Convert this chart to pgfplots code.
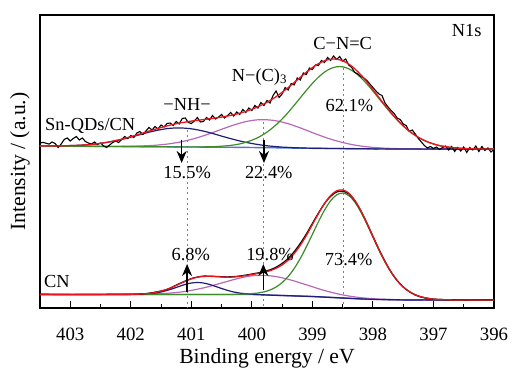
\documentclass[border=0pt]{standalone}
\usepackage{fontspec}
\setmainfont{Liberation Serif}
\usepackage{pgfplots}
\usepackage{pgfplotstable}
\pgfplotsset{compat=1.18}
\usetikzlibrary{arrows.meta}
\definecolor{cnavy}{HTML}{1E1E78}
\definecolor{cpink}{HTML}{B868B8}
\definecolor{cgreen}{HTML}{3C8C28}
\definecolor{cred}{HTML}{E8141E}
\definecolor{cbase}{HTML}{5078C8}
\definecolor{cbaseL}{HTML}{5A52B0}
\newcommand{\af}{\fontsize{9.2}{11}\selectfont}
\newcommand{\lf}{\fontsize{10.8}{12}\selectfont}

% upper spectrum (Sn-QDs/CN): x, background, -NH-, N-(C)3, C-N=C, envelope
\pgfplotstableread{
x B blue pink green red
403.5 162.0 162.1 162.0 162.0 162.1
403.4 162.0 162.1 162.0 162.0 162.1
403.3 161.9 162.1 161.9 161.9 162.1
403.2 161.9 162.1 161.9 161.9 162.1
403.1 161.8 162.2 161.8 161.8 162.2
403.0 161.8 162.4 161.8 161.8 162.4
402.9 161.8 162.6 161.8 161.8 162.6
402.8 161.7 162.9 161.7 161.7 162.9
402.7 161.7 163.3 161.7 161.7 163.4
402.6 161.6 163.9 161.7 161.6 163.9
402.5 161.6 164.6 161.6 161.6 164.7
402.4 161.6 165.6 161.6 161.6 165.6
402.3 161.5 166.7 161.6 161.5 166.8
402.2 161.5 167.9 161.6 161.5 168.1
402.1 161.4 169.3 161.7 161.4 169.6
402.0 161.4 170.9 161.8 161.4 171.3
401.9 161.4 172.5 161.9 161.4 173.1
401.8 161.3 174.2 162.1 161.3 174.9
401.7 161.3 175.8 162.4 161.3 176.9
401.6 161.2 177.2 162.7 161.2 178.7
401.5 161.2 178.4 163.3 161.2 180.5
401.4 161.2 179.4 163.9 161.2 182.1
401.3 161.1 179.9 164.8 161.1 183.6
401.2 161.1 180.1 165.8 161.1 184.9
401.1 161.0 179.8 167.1 161.1 185.9
401.0 161.0 179.2 168.6 161.1 186.9
400.9 161.0 178.2 170.3 161.1 187.7
400.8 160.9 176.9 172.2 161.1 188.4
400.7 160.9 175.4 174.3 161.3 189.2
400.6 160.8 173.7 176.5 161.4 190.0
400.5 160.8 171.9 178.7 161.8 190.9
400.4 160.7 170.2 180.9 162.3 192.0
400.3 160.7 168.6 183.0 163.0 193.3
400.2 160.6 167.0 184.8 164.1 194.8
400.1 160.6 165.7 186.4 165.7 196.6
400.0 160.5 164.5 187.5 167.8 198.7
399.9 160.4 163.5 188.2 170.4 201.2
399.8 160.3 162.6 188.3 173.9 204.1
399.7 160.3 161.9 188.0 178.1 207.5
399.6 160.2 161.4 187.2 183.2 211.3
399.5 160.1 160.9 185.9 189.0 215.7
399.4 160.0 160.6 184.3 195.6 220.4
399.3 159.9 160.3 182.3 202.8 225.5
399.2 159.9 160.1 180.1 210.2 230.7
399.1 159.8 159.9 177.8 217.6 235.8
399.0 159.7 159.8 175.4 224.6 240.4
398.9 159.6 159.7 173.1 230.8 244.3
398.8 159.6 159.6 170.9 235.9 247.2
398.7 159.5 159.5 168.9 239.4 248.8
398.6 159.5 159.5 167.1 241.2 248.8
398.5 159.4 159.4 165.5 241.2 247.2
398.4 159.3 159.3 164.1 239.2 244.0
398.3 159.3 159.3 162.9 235.6 239.2
398.2 159.2 159.2 162.0 230.4 233.2
398.1 159.2 159.2 161.2 224.1 226.1
398.0 159.1 159.1 160.6 216.9 218.4
397.9 159.1 159.1 160.2 209.4 210.5
397.8 159.1 159.1 159.8 201.9 202.7
397.7 159.0 159.0 159.6 194.7 195.2
397.6 159.0 159.0 159.4 188.0 188.3
397.5 159.0 159.0 159.2 182.0 182.2
397.4 159.0 159.0 159.1 176.8 177.0
397.3 159.0 159.0 159.1 172.5 172.6
397.2 158.9 158.9 159.0 169.0 169.0
397.1 158.9 158.9 159.0 166.2 166.2
397.0 158.9 158.9 158.9 164.0 164.1
396.9 158.9 158.9 158.9 162.4 162.4
396.8 158.9 158.9 158.9 161.3 161.3
396.7 158.9 158.9 158.9 160.5 160.5
396.6 158.9 158.9 158.9 159.9 159.9
396.5 158.9 158.9 158.9 159.5 159.5
396.4 158.8 158.8 158.8 159.2 159.2
396.3 158.8 158.8 158.8 159.1 159.1
396.2 158.8 158.8 158.8 159.0 159.0
396.1 158.8 158.8 158.8 158.9 158.9
396.0 158.8 158.8 158.8 158.9 158.9
}\tabUfit

\pgfplotstableread{
x y
403.50 165.0
403.45 165.6
403.40 164.8
403.35 163.9
403.30 166.0
403.25 164.5
403.20 160.5
403.15 164.0
403.10 168.5
403.05 170.0
403.00 167.0
402.95 169.5
402.90 171.5
402.85 168.0
402.80 170.0
402.75 166.5
402.70 165.0
402.65 164.0
402.60 166.0
402.55 163.5
402.50 165.0
402.45 162.0
402.40 160.5
402.35 163.0
402.30 165.5
402.25 167.0
402.20 165.5
402.15 168.5
402.10 171.5
402.05 169.5
402.00 172.5
401.95 170.5
401.90 175.0
401.85 176.5
401.80 173.5
401.75 177.0
401.70 180.5
401.65 178.0
401.60 181.5
401.55 179.0
401.50 183.0
401.45 181.0
401.40 184.5
401.35 185.0
401.30 182.5
401.25 186.5
401.20 184.0
401.15 189.5
401.10 190.0
401.05 185.5
401.00 184.5
400.95 187.0
400.90 190.5
400.85 186.0
400.80 186.5
400.75 190.5
400.70 188.0
400.65 192.5
400.60 189.0
400.55 191.0
400.50 193.5
400.45 190.0
400.40 192.5
400.35 195.5
400.30 192.0
400.25 196.0
400.20 193.5
400.15 198.5
400.10 195.5
400.05 200.0
400.00 197.5
399.95 202.5
399.90 200.0
399.85 205.5
399.80 202.5
399.75 207.5
399.70 205.0
399.65 212.5
399.60 217.0
399.55 210.5
399.50 214.0
399.45 220.5
399.40 218.0
399.35 224.5
399.30 223.0
399.25 230.0
399.20 228.0
399.15 235.0
399.10 233.5
399.05 240.0
399.00 238.5
398.95 243.0
398.90 242.5
398.85 247.5
398.80 245.5
398.75 250.5
398.70 247.5
398.65 252.0
398.60 248.5
398.55 251.5
398.50 247.0
398.45 249.0
398.40 243.0
398.35 240.5
398.30 235.5
398.25 234.0
398.20 231.5
398.15 230.0
398.10 227.5
398.05 224.0
398.00 220.5
397.95 217.0
397.90 214.0
397.85 212.5
397.80 205.0
397.75 201.0
397.70 197.5
397.65 194.5
397.60 190.0
397.55 188.5
397.50 184.0
397.45 182.5
397.40 176.5
397.35 178.0
397.30 174.0
397.25 169.5
397.20 166.0
397.15 162.5
397.10 160.0
397.05 161.5
397.00 159.5
396.95 161.0
396.90 158.5
396.85 160.5
396.80 162.0
396.75 158.0
396.70 161.5
396.65 156.5
396.60 160.5
396.55 157.0
396.50 161.0
396.45 155.5
396.40 160.5
396.35 158.0
396.30 162.0
396.25 156.5
396.20 161.5
396.15 157.5
396.10 160.0
396.05 156.0
396.00 158.5
}\tabUdata

% lower spectrum (CN)
\pgfplotstableread{
x B blue pink green red
403.5 13.5 13.5 13.5 13.5 13.5
403.0 13.5 13.5 13.5 13.5 13.5
402.5 13.5 13.5 13.5 13.5 13.5
402.3 13.5 13.5 13.5 13.5 13.5
402.2 13.5 13.5 13.5 13.5 13.6
402.1 13.5 13.5 13.6 13.5 13.6
402.0 13.5 13.6 13.6 13.5 13.7
401.9 13.5 13.7 13.7 13.5 13.8
401.8 13.5 13.9 13.8 13.5 14.1
401.7 13.5 14.3 13.9 13.5 14.6
401.6 13.5 14.9 14.1 13.5 15.5
401.5 13.5 16.0 14.4 13.5 16.9
401.4 13.5 17.6 14.7 13.5 18.8
401.3 13.5 19.5 15.2 13.5 21.2
401.2 13.5 21.6 15.8 13.5 24.0
401.1 13.5 23.6 16.6 13.5 26.7
401.0 13.5 25.0 17.6 13.5 29.1
400.9 13.5 25.5 18.8 13.5 30.8
400.8 13.5 25.0 20.1 13.5 31.6
400.7 13.5 23.6 21.6 13.5 31.7
400.6 13.5 21.6 23.3 13.5 31.4
400.5 13.5 19.5 25.0 13.5 31.0
400.4 13.5 17.6 26.7 13.6 30.8
400.3 13.5 16.0 28.4 13.6 31.0
400.2 13.5 14.9 29.9 13.8 31.6
400.1 13.5 14.3 31.2 14.0 32.4
400.0 13.5 13.9 32.2 14.4 33.5
399.9 13.3 13.5 32.6 15.0 34.5
399.8 13.1 13.2 32.6 16.1 35.7
399.7 12.9 12.9 32.2 18.0 37.3
399.6 12.7 12.7 31.4 21.0 39.7
399.5 12.5 12.5 30.2 25.4 43.1
399.4 12.3 12.3 28.7 31.5 47.9
399.3 12.1 12.1 27.0 39.6 54.4
399.2 11.9 11.9 25.1 49.5 62.7
399.1 11.7 11.7 23.2 61.1 72.5
399.0 11.5 11.5 21.3 73.7 83.4
398.9 11.2 11.2 19.3 86.3 94.4
398.8 10.9 10.9 17.5 97.8 104.5
398.7 10.6 10.6 15.9 107.2 112.4
398.6 10.3 10.3 14.4 113.1 117.2
398.5 10.0 10.0 13.1 115.0 118.1
398.4 9.7 9.7 12.0 112.5 114.9
398.3 9.4 9.4 11.1 106.0 107.7
398.2 9.1 9.1 10.3 96.0 97.3
398.1 8.9 8.9 9.8 84.0 84.8
398.0 8.7 8.7 9.3 70.9 71.5
397.9 8.5 8.5 8.9 57.9 58.3
397.8 8.4 8.4 8.7 46.0 46.3
397.7 8.3 8.3 8.5 35.8 35.9
397.6 8.2 8.2 8.3 27.4 27.5
397.5 8.1 8.1 8.2 21.0 21.1
397.4 8.1 8.1 8.1 16.4 16.5
397.3 8.1 8.1 8.1 13.2 13.2
397.2 8.1 8.1 8.1 11.1 11.1
397.1 8.1 8.1 8.1 9.8 9.8
397.0 8.0 8.0 8.0 8.9 8.9
396.9 8.0 8.0 8.0 8.5 8.5
396.8 8.0 8.0 8.0 8.3 8.3
396.7 8.0 8.0 8.0 8.1 8.1
396.5 8.0 8.0 8.0 8.0 8.0
396.0 8.0 8.0 8.0 8.0 8.0
}\tabLfit

\pgfplotstableread{
x y
403.5 13.8
403.0 13.4
402.5 13.6
402.0 13.9
401.8 14.0
401.6 15.8
401.4 18.6
401.2 24.3
401.0 29.4
400.9 30.9
400.8 31.9
400.7 31.8
400.6 31.6
400.5 31.3
400.4 31.1
400.3 31.4
400.2 32.0
400.1 32.9
400.0 34.0
399.9 35.1
399.8 36.4
399.7 38.2
399.6 40.8
399.5 44.6
399.4 49.6
399.3 56.4
399.2 64.6
399.1 74.0
399.0 84.6
398.9 95.0
398.8 104.4
398.7 111.6
398.6 116.0
398.5 116.8
398.4 114.2
398.3 107.4
398.2 97.4
398.1 85.0
398.0 71.8
397.9 58.6
397.8 46.6
397.7 36.0
397.6 27.6
397.5 21.0
397.4 16.4
397.3 13.0
397.2 10.9
397.1 9.6
397.0 8.8
396.8 8.3
396.5 8.1
396.0 8.2
}\tabLdata

\begin{document}
\begin{tikzpicture}
\useasboundingbox (-20pt,-30.5pt) rectangle (236pt,154pt);
\begin{axis}[
  scale only axis, width=227pt, height=146.5pt,
  xmin=396, xmax=403.5, x dir=reverse, ymin=0, ymax=293,
  xtick={396,...,403}, minor x tick num=1, xtick pos=bottom, ytick=\empty,
  tick align=inside, major tick length=3.5pt, minor tick length=2pt,
  axis line style={line width=0.6pt},
  every tick/.style={black, line width=0.5pt},
  /pgf/number format/assume math mode=true,
  xticklabel style={font=\fontsize{9.4}{10}\selectfont, anchor=base, yshift=-16pt},
  xlabel={Binding energy / eV},
  ylabel={Intensity / (a.u.)},
  xlabel style={font=\lf, at={(axis description cs:0.5,-0.1911)}, anchor=base},
  ylabel style={font=\lf, at={(axis description cs:-0.0441,0.5)}, anchor=center},
  no markers, clip=true,
]
% dotted guide lines
\addplot[gray, line width=0.5pt, dash pattern=on 1pt off 1.6pt] coordinates {(401.07,178) (401.07,0)};
\addplot[gray, line width=0.5pt, dash pattern=on 1pt off 1.6pt] coordinates {(399.81,186) (399.81,0)};
\addplot[gray, line width=0.5pt, dash pattern=on 1pt off 1.6pt] coordinates {(398.49,240) (398.49,0)};

% upper
\addplot[cbase, line width=0.7pt] table[x=x,y=B] {\tabUfit};
\addplot[cpink, line width=0.6pt, smooth] table[x=x,y=pink] {\tabUfit};
\addplot[cnavy, line width=0.6pt, smooth] table[x=x,y=blue] {\tabUfit};
\addplot[cgreen, line width=0.6pt, smooth] table[x=x,y=green] {\tabUfit};
\addplot[black, line width=0.55pt] table[x=x,y=y] {\tabUdata};
\addplot[cred, line width=0.65pt, smooth] table[x=x,y=red] {\tabUfit};

% lower
\addplot[cbaseL, line width=0.7pt] table[x=x,y=B] {\tabLfit};
\addplot[cpink, line width=0.6pt, smooth] table[x=x,y=pink] {\tabLfit};
\addplot[cnavy, line width=0.6pt, smooth] table[x=x,y=blue] {\tabLfit};
\addplot[cgreen, line width=0.6pt, smooth] table[x=x,y=green] {\tabLfit};
\addplot[black, line width=0.6pt, smooth] table[x=x,y=y] {\tabLdata};
\addplot[cred, line width=0.65pt, smooth] table[x=x,y=red] {\tabLfit};

% arrows
\draw[line width=0.8pt, -{Stealth[length=6pt,width=5pt]}] (401.16,168) -- (401.16,145);
\draw[line width=0.8pt, -{Stealth[length=6pt,width=5pt]}] (399.80,168) -- (399.80,145);
\draw[line width=0.8pt, -{Stealth[length=6pt,width=5pt]}] (401.07,16) -- (401.07,44);
\draw[line width=0.8pt, -{Stealth[length=6pt,width=5pt]}] (399.81,18) -- (399.81,44);

% labels
\node[font=\af] at (401.07,204) {−NH−};
\node[font=\af] at (399.87,231) {N−(C)\textsubscript{3}};
\node[font=\af] at (398.50,264) {C−N=C};
\node[font=\af] at (396.45,277) {N1s};
\node[font=\af, anchor=west, inner sep=0pt] at (403.42,182.5) {Sn-QDs/CN};
\node[font=\af] at (401.07,135) {15.5\%};
\node[font=\af] at (399.72,135) {22.4\%};
\node[font=\af] at (398.39,202) {62.1\%};
\node[font=\af] at (401.01,53) {6.8\%};
\node[font=\af] at (399.70,53) {19.8\%};
\node[font=\af] at (398.40,48) {73.4\%};
\node[font=\af, anchor=west, inner sep=0pt] at (403.44,26.5) {CN};
\end{axis}
\end{tikzpicture}
\end{document}
